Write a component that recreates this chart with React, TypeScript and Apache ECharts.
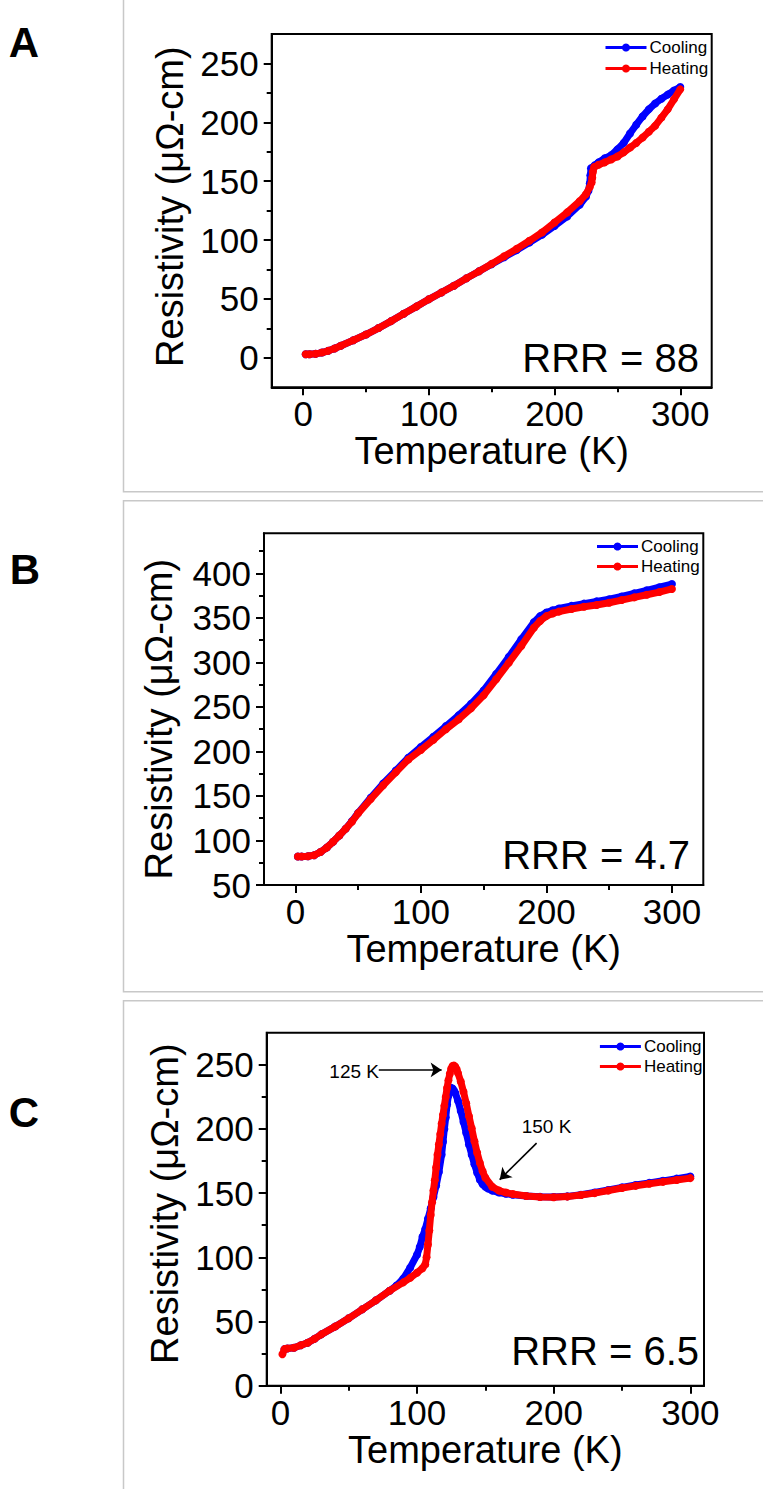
import React, { useEffect, useRef } from "react";
import * as echarts from "echarts";

const FONT = '"Liberation Sans", Arial, sans-serif';
const BLUE = "#0000ff";
const RED = "#ff0000";

// ---------- Panel A ----------
const aCoolT = [2, 5, 10, 15, 20, 25, 30, 40, 50, 60, 70, 80, 90, 100, 110, 120, 130, 140, 150, 160, 170, 180, 190, 200, 210, 220, 225, 227, 228, 228.5, 229, 232, 235, 240, 245, 250, 255, 260, 265, 270, 275, 280, 285, 290, 295, 300];
const aCoolR = [3.0, 3.0, 3.4, 4.5, 6.0, 8.0, 10.3, 15.0, 19.8, 25.3, 31.2, 37.4, 43.5, 49.7, 55.5, 61.3, 67.6, 73.6, 79.5, 85.5, 91.5, 98, 104.5, 112, 120, 130, 137, 142, 148, 155, 161, 163.5, 166, 169.5, 172, 177, 182.5, 190.5, 198, 205, 211, 216, 220, 223.5, 227, 230];
const aHeatT = [2, 5, 10, 15, 20, 25, 30, 40, 50, 60, 70, 80, 90, 100, 110, 120, 130, 140, 150, 160, 170, 180, 190, 200, 210, 220, 225, 228, 229.5, 230, 230.5, 231.5, 235, 240, 245, 250, 255, 260, 265, 270, 275, 280, 285, 290, 295, 300];
const aHeatR = [3.0, 3.0, 3.4, 4.5, 6.0, 8.0, 10.3, 15.0, 19.8, 25.3, 31.2, 37.4, 43.5, 49.7, 55.5, 61.3, 67.6, 73.6, 79.8, 86.3, 92.7, 99.4, 106.5, 115, 123.5, 133, 139, 145, 149, 153, 158, 162, 164, 166, 168.5, 171, 174.5, 178.5, 182.5, 187, 192, 197, 204, 211, 219.5, 228];

// ---------- Panel B ----------
const bCoolT = [2, 5, 10, 15, 20, 25, 30, 35, 40, 45, 50, 60, 70, 80, 90, 100, 110, 120, 130, 140, 150, 160, 170, 180, 190, 195, 200, 205, 210, 220, 230, 240, 250, 260, 270, 280, 290, 300];
const bCoolR = [82, 82, 82.3, 83.5, 87, 92, 98.5, 105.5, 113, 121.5, 131, 148, 164, 178.5, 193, 205, 216.5, 228.5, 240.5, 253.5, 268.5, 287, 306, 326, 345, 352, 356, 358.5, 360.5, 363.5, 366, 368.5, 371, 374, 377.5, 381, 384.5, 388];
const bHeatT = [2, 5, 10, 15, 20, 25, 30, 35, 40, 45, 50, 60, 70, 80, 90, 100, 110, 120, 130, 140, 150, 160, 170, 180, 190, 195, 200, 205, 210, 220, 230, 240, 250, 260, 270, 280, 290, 300];
const bHeatR = [82, 82, 82.3, 83.5, 87, 92, 98.5, 105.5, 113, 121, 130.5, 146.5, 162, 176.5, 191, 201.6, 213, 225, 236, 248.5, 263, 281, 299.5, 318.5, 339, 346.5, 352, 355, 357, 360, 362.5, 364.5, 367, 370, 373, 376, 379, 382.5];

// ---------- Panel C ----------
const cCoolT = [3, 5, 10, 15, 20, 25, 30, 40, 50, 60, 70, 80, 85, 90, 95, 100, 102, 104, 106, 108, 110, 112, 114, 116, 118, 119, 120, 121, 122, 123, 124, 125, 126, 127, 128, 130, 132, 134, 136, 138, 140, 142, 144, 146, 148, 150, 152, 155, 160, 165, 170, 180, 190, 200, 210, 220, 230, 240, 250, 260, 270, 280, 290, 300];
const cCoolR = [28.5, 29, 29.5, 31.5, 33.5, 36.5, 40, 46, 52.5, 59.5, 66.5, 74, 78, 83.5, 92, 102, 108, 116, 122, 130, 138, 147, 156, 166.5, 180, 190, 200, 209, 219, 226, 230.5, 232, 231.5, 230, 228, 222, 214, 205.5, 197, 188, 180, 172.5, 166, 160.5, 157, 155, 153.6, 152, 150.5, 149.5, 148.8, 147.8, 147.2, 147, 147.5, 148.8, 150.5, 152.5, 154.5, 156.3, 158, 159.6, 161.3, 163];
const cHeatT = [1.5, 3, 5, 10, 15, 20, 25, 30, 40, 50, 60, 70, 80, 90, 95, 100, 104, 106, 107, 108, 109, 110, 111, 112, 113, 114, 115, 116, 117, 118, 119, 120, 121, 122, 123, 124, 125, 126, 127, 128, 129, 130, 132, 134, 136, 138, 140, 142, 144, 146, 148, 150, 155, 160, 165, 170, 180, 190, 200, 210, 220, 230, 240, 250, 260, 270, 280, 290, 300];
const cHeatR = [24.5, 28.5, 29, 29.5, 31.5, 33.5, 36.5, 40, 46, 52.5, 59.5, 66.5, 74, 80.5, 84, 88, 91.5, 94.5, 100, 110, 121, 133, 143, 152, 160, 170, 180, 188, 196, 204, 211, 218, 225, 232, 238, 243, 247, 249, 249.5, 248.5, 246.5, 243.5, 237, 229, 220, 210, 200.5, 190.5, 181.5, 173.5, 167, 162, 155, 152, 150.5, 149.3, 147.8, 147, 146.8, 147.3, 148.5, 150, 152, 154, 155.7, 157.3, 158.8, 160.3, 161.7];

// ---------- Axes ----------
const xRangeA = [-25, 325];
const xRangeB = [-25, 325];
const xRangeC = [-10, 310];
const yRangeA = [-25, 275];
const yRangeB = [50, 445];
const yRangeC = [0, 275];
const xMajor = [0, 100, 200, 300];
const xMinor = [50, 150, 250];
const yMajorA = [0, 50, 100, 150, 200, 250];
const yMinorA = [25, 75, 125, 175, 225];
const yMajorB = [50, 100, 150, 200, 250, 300, 350, 400];
const yMinorB = [75, 125, 175, 225, 275, 325, 375, 425];
const yMajorC = [0, 50, 100, 150, 200, 250];
const yMinorC = [25, 75, 125, 175, 225];

const rrrLabels = ["RRR = 88", "RRR = 4.7", "RRR = 6.5"];
const panelLetters = ["A", "B", "C"];
const seriesNames = ["Cooling", "Heating"];
const xTitle = "Temperature (K)";
const yTitle = "Resistivity (\u03bc\u03a9-cm)";
const arrowNotes = ["125 K", "150 K"];
const arrow125 = [[72, 246], [118, 246]];
const arrow150 = [[187.5, 189], [160.5, 160.5]];

const zip = (t: number[], r: number[]) => t.map((v, i) => [v, r[i]]);

const grids = [
  { left: 271.7, top: 34, width: 440, height: 353.3 },
  { left: 264, top: 533.3, width: 439.3, height: 351.7 },
  { left: 266.7, top: 1032.7, width: 437.3, height: 353 },
];

function buildOption() {
  const xRanges = [xRangeA, xRangeB, xRangeC];
  const yRanges = [yRangeA, yRangeB, yRangeC];
  const yMajors = [yMajorA, yMajorB, yMajorC];
  const yMinors = [yMinorA, yMinorB, yMinorC];
  const yNameGaps = [77, 86, 82];
  const yNamePad = [
    [0, 0, 0, 8],
    [0, 20, 0, 0],
    [0, 0, 0, 11],
  ];

  const black = "#000";
  const xAxes: any[] = [];
  const yAxes: any[] = [];
  for (let i = 0; i < 3; i++) {
    xAxes.push({
      type: "value",
      gridIndex: i,
      position: "bottom",
      min: xRanges[i][0],
      max: xRanges[i][1],
      axisLine: { show: true, onZero: false, lineStyle: { color: black, width: 2 } },
      axisTick: { show: true, inside: false, length: 8, customValues: xMajor, lineStyle: { color: black, width: 2 } },
      axisLabel: { show: true, customValues: xMajor, margin: 9, color: black, fontSize: 35, fontFamily: FONT },
      splitLine: { show: false },
      name: xTitle,
      nameLocation: "middle",
      nameGap: 45,
      nameTextStyle: { fontSize: 38, color: black, fontFamily: FONT },
    });
    yAxes.push({
      type: "value",
      gridIndex: i,
      position: "left",
      min: yRanges[i][0],
      max: yRanges[i][1],
      axisLine: { show: true, onZero: false, lineStyle: { color: black, width: 2 } },
      axisTick: { show: true, inside: false, length: 8, customValues: yMajors[i], lineStyle: { color: black, width: 2 } },
      axisLabel: { show: true, customValues: yMajors[i], margin: 13, color: black, fontSize: 35, fontFamily: FONT },
      splitLine: { show: false },
      name: yTitle,
      nameLocation: "middle",
      nameGap: yNameGaps[i],
      nameTextStyle: { fontSize: 38, color: black, fontFamily: FONT, padding: yNamePad[i] },
    });
  }
  for (let i = 0; i < 3; i++) {
    xAxes.push({
      type: "value",
      gridIndex: i,
      position: "bottom",
      min: xRanges[i][0],
      max: xRanges[i][1],
      axisLine: { show: false, onZero: false },
      axisTick: { show: true, inside: false, length: 5, customValues: xMinor, lineStyle: { color: black, width: 2 } },
      axisLabel: { show: false },
      splitLine: { show: false },
    });
    yAxes.push({
      type: "value",
      gridIndex: i,
      position: "left",
      min: yRanges[i][0],
      max: yRanges[i][1],
      axisLine: { show: false, onZero: false },
      axisTick: { show: true, inside: false, length: 5, customValues: yMinors[i], lineStyle: { color: black, width: 2 } },
      axisLabel: { show: false },
      splitLine: { show: false },
    });
  }

  const mk = (name: string, color: string, data: number[][], idx: number, z: number, extra: any = {}) => ({
    type: "line",
    name,
    xAxisIndex: idx,
    yAxisIndex: idx,
    data,
    symbol: "circle",
    symbolSize: 8,
    showSymbol: true,
    lineStyle: { color, width: 7 },
    itemStyle: { color },
    z,
    silent: true,
    ...extra,
  });

  const series: any[] = [
    mk(seriesNames[0], BLUE, zip(aCoolT, aCoolR), 0, 2),
    mk(seriesNames[1], RED, zip(aHeatT, aHeatR), 0, 3),
    mk(seriesNames[0], BLUE, zip(bCoolT, bCoolR), 1, 2),
    mk(seriesNames[1], RED, zip(bHeatT, bHeatR), 1, 3),
    mk(seriesNames[0], BLUE, zip(cCoolT, cCoolR), 2, 2),
    mk(seriesNames[1], RED, zip(cHeatT, cHeatR), 2, 3, {
      markLine: {
        silent: true,
        animation: false,
        symbol: ["none", "arrow"],
        symbolSize: 11,
        lineStyle: { color: black, width: 1.6, type: "solid" },
        label: { show: false },
        emphasis: { disabled: true },
        data: [
          [{ coord: arrow125[0] }, { coord: arrow125[1] }],
          [{ coord: arrow150[0] }, { coord: arrow150[1] }],
        ],
      },
    }),
  ];

  const legendPos = [
    { left: 604, top: 39, itemGap: 4 },
    { left: 595.5, top: 538, itemGap: 3 },
    { left: 598.4, top: 1038, itemGap: 3 },
  ];
  const legend = legendPos.map((p) => ({
    data: seriesNames,
    orient: "vertical",
    left: p.left,
    top: p.top,
    itemGap: p.itemGap,
    padding: 0,
    itemWidth: 41,
    itemHeight: 10,
    selectedMode: false,
    lineStyle: { width: 3 },
    textStyle: { fontSize: 17, color: "#000", fontFamily: FONT, padding: [0, 0, 0, -2] },
  }));

  const frameStyle = { stroke: "#c8c8c8", lineWidth: 1.5, fill: "none" };
  const graphic: any[] = [
    { type: "rect", shape: { x: 123.5, y: -10, width: 700, height: 501.7 }, style: frameStyle, silent: true, z: -10 },
    { type: "rect", shape: { x: 123.5, y: 500.7, width: 700, height: 491 }, style: frameStyle, silent: true, z: -10 },
    { type: "rect", shape: { x: 123.5, y: 1000.7, width: 700, height: 600 }, style: frameStyle, silent: true, z: -10 },
  ];
  const letterPos = [[24, 42], [25, 569], [24, 1112]];
  panelLetters.forEach((t, i) => {
    graphic.push({
      type: "text",
      x: letterPos[i][0],
      y: letterPos[i][1],
      silent: true,
      style: { text: t, fontSize: 42, fontWeight: "bold", fontFamily: FONT, fill: "#000", align: "center", verticalAlign: "middle" },
    });
  });
  const rrrPos = [[699, 357.5], [690, 855], [699, 1351]];
  rrrLabels.forEach((t, i) => {
    graphic.push({
      type: "text",
      x: rrrPos[i][0],
      y: rrrPos[i][1],
      silent: true,
      style: { text: t, fontSize: 40, fontFamily: FONT, fill: "#000", align: "right", verticalAlign: "middle" },
    });
  });
  graphic.push({
    type: "text",
    x: 379,
    y: 1071.7,
    silent: true,
    style: { text: arrowNotes[0], fontSize: 19, fontFamily: FONT, fill: "#000", align: "right", verticalAlign: "middle" },
  });
  graphic.push({
    type: "text",
    x: 546.5,
    y: 1126.7,
    silent: true,
    style: { text: arrowNotes[1], fontSize: 19, fontFamily: FONT, fill: "#000", align: "center", verticalAlign: "middle" },
  });

  return {
    animation: false,
    backgroundColor: "#fff",
    grid: grids.map((g) => ({ ...g, show: true, borderColor: "#000", borderWidth: 2, backgroundColor: "transparent" })),
    xAxis: xAxes,
    yAxis: yAxes,
    legend,
    series,
    graphic,
  };
}

export default function App() {
  const ref = useRef<HTMLDivElement>(null);
  useEffect(() => {
    if (!ref.current) return;
    const chart = echarts.init(ref.current, null, { renderer: "svg" });
    chart.setOption(buildOption() as any);
    return () => chart.dispose();
  }, []);
  return <div ref={ref} style={{ position: "absolute", left: 0, top: 0, width: 763, height: 1489 }} />;
}
